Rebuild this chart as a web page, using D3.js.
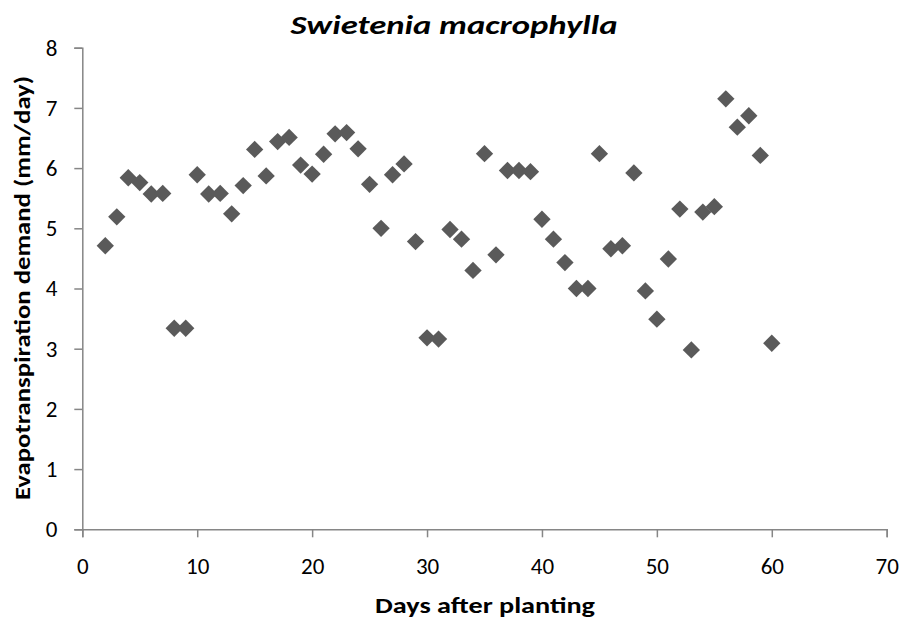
<!DOCTYPE html>
<html><head><meta charset="utf-8">
<script src="https://cdn.jsdelivr.net/npm/d3@7"></script>
<style>body{margin:0;background:#fff}svg{display:block}</style>
</head><body>
<script>
const days = [2,3,4,5,6,7,8,9,10,11,12,13,14,15,16,17,18,19,20,21,22,23,24,25,26,27,28,29,30,31,32,33,34,35,36,37,38,39,40,41,42,43,44,45,46,47,48,49,50,51,52,53,54,55,56,57,58,59,60];
const etDemand = [4.71,5.19,5.84,5.76,5.57,5.58,3.34,3.34,5.89,5.57,5.58,5.24,5.71,6.31,5.87,6.44,6.51,6.05,5.90,6.23,6.57,6.59,6.32,5.73,5.00,5.89,6.07,4.78,3.18,3.16,4.98,4.82,4.30,6.24,4.56,5.96,5.96,5.94,5.15,4.82,4.43,4.00,4.00,6.24,4.66,4.71,5.92,3.96,3.49,4.49,5.32,2.98,5.27,5.36,7.15,6.68,6.87,6.21,3.09];
const xTicks = [0,10,20,30,40,50,60,70];
const yTicks = [0,1,2,3,4,5,6,7,8];
const title = "Swietenia macrophylla";
const xTitle = "Days after planting";
const yTitle = "Evapotranspiration demand (mm/day)";

const W = 907, H = 623;
const m = {left: 82.3, right: 907-886.7, top: 47.7, bottom: 623-529.3};
const svg = d3.select("body").append("svg").attr("width", W).attr("height", H);
const font = "Carlito, 'Open Sans', 'Liberation Sans', sans-serif";

const x = d3.scaleLinear().domain([0,70]).range([m.left, W-m.right]);
const y = d3.scaleLinear().domain([0,8]).range([H-m.bottom, m.top]);

const axisColor = "#868686";
const gx = svg.append("g").attr("transform", `translate(0,${y(0)})`)
  .call(d3.axisBottom(x).tickValues(xTicks).tickSize(8).tickPadding(20).tickFormat(d3.format("d")));
const gy = svg.append("g").attr("transform", `translate(${x(0)},0)`)
  .call(d3.axisLeft(y).tickValues(yTicks).tickSize(8).tickPadding(17).tickFormat(d3.format("d")));
[gx, gy].forEach(g => {
  g.select(".domain").attr("stroke", axisColor).attr("stroke-width", 1.5);
  g.selectAll(".tick line").attr("stroke", axisColor).attr("stroke-width", 1.5);
  g.selectAll(".tick text").attr("fill", "#000").style("font-family", font).style("font-size", "23px");
});

svg.append("g").selectAll("path").data(days.map((d,i)=>[d, etDemand[i]])).join("path")
  .attr("d", d3.symbol().type(d3.symbolSquare).size(150))
  .attr("transform", d => `translate(${x(d[0])},${y(d[1])}) rotate(45)`)
  .attr("fill", "#5a5a5a");

svg.append("text").attr("x", 454).attr("y", 34).attr("text-anchor", "middle")
  .style("font-family", font).style("font-size", "27px").style("font-weight", "bold").style("font-style", "italic")
  .attr("textLength", 327).attr("lengthAdjust", "spacingAndGlyphs")
  .text(title);
svg.append("text").attr("x", 485).attr("y", 613).attr("text-anchor", "middle")
  .style("font-family", font).style("font-size", "22px").style("font-weight", "bold")
  .attr("textLength", 220).attr("lengthAdjust", "spacingAndGlyphs")
  .text(xTitle);
svg.append("text").attr("transform", "translate(30,288) rotate(-90)").attr("text-anchor", "middle")
  .style("font-family", font).style("font-size", "22px").style("font-weight", "bold")
  .attr("textLength", 424).attr("lengthAdjust", "spacingAndGlyphs")
  .text(yTitle);
</script>
</body></html>
